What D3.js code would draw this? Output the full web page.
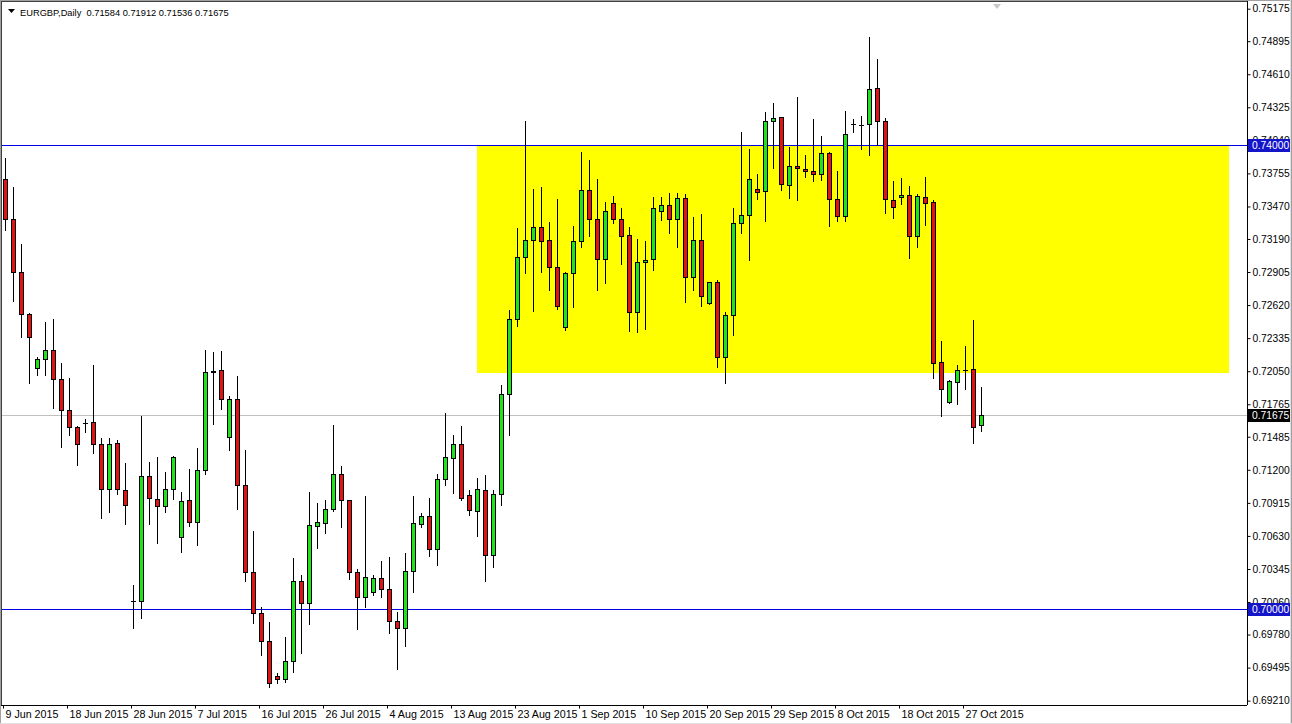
<!DOCTYPE html>
<html><head><meta charset="utf-8">
<script src="https://cdn.jsdelivr.net/npm/d3@7"></script>
<style>html,body{margin:0;padding:0;background:#fff;overflow:hidden}svg{display:block}text{font-family:"Liberation Sans",Arial,sans-serif}</style>
</head><body><svg id="c" width="1292" height="724"></svg>
<script>
// ---- data (EURGBP daily) ----
const opens=[.73707,.73362,.72905,.72543,.72078,.72155,.72233,.71983,.71716,.71569,
.71603,.71610,.71422,.71034,.71431,.71026,.70069,.70065,.71147,.70948,
.70888,.71034,.70621,.70940,.70750,.71198,.72040,.72058,.71483,.71810,
.71069,.70319,.69966,.69724,.69422,.69397,.69552,.70241,.70052,.70718,
.70741,.70862,.71164,.70940,.70319,.70103,.70147,.70267,.70172,.69897,
.69836,.70328,.70733,.70802,.70517,.71121,.71302,.71422,.70983,.70847,
.71026,.70466,.70991,.71853,.72500,.73034,.73181,.73293,.73181,.72948,
.72431,.72897,.73172,.73612,.73362,.73017,.73500,.73362,.73224,.72560,
.72994,.73013,.73431,.73483,.73362,.73543,.72862,.73181,.72638,.72819,
.72172,.72534,.73328,.73397,.73621,.73603,.74204,.74239,.73655,.73819,
.73793,.73776,.73750,.73931,.73534,.73388,.74181,.74172,.74181,.74491,
.74207,.73526,.73552,.73569,.73216,.73552,.73509,.72130,.71784,.71957,
.72060,.72069,.71584];
const highs=[.73888,.73638,.73147,.72552,.72172,.72474,.72500,.72121,.71991,.71575,
.71638,.72103,.71474,.71474,.71457,.71259,.70207,.71664,.71267,.71310,
.71181,.71319,.71009,.71207,.71388,.72233,.72216,.72224,.71836,.72009,
.71371,.70672,.70017,.69888,.69448,.69759,.70440,.70293,.71009,.70914,
.70940,.71586,.71233,.70940,.70345,.70974,.70293,.70414,.70448,.69974,
.70483,.70974,.70828,.70961,.71164,.71690,.71500,.71578,.71026,.71129,
.71155,.71026,.71931,.72578,.73284,.74207,.73621,.73638,.73336,.73534,
.72905,.73302,.73940,.73871,.73707,.73509,.73560,.73457,.73293,.73190,
.73172,.73552,.73552,.73586,.73586,.73578,.73379,.73405,.72819,.72836,
.72560,.73457,.74112,.73966,.73750,.74284,.74362,.74241,.73983,.74414,
.73914,.74224,.74078,.73940,.73776,.74293,.74224,.74250,.74931,.74741,
.74233,.73690,.73716,.73647,.73578,.73724,.73526,.72310,.71970,.72103,
.72267,.72491,.71912];
const lows=[.73267,.72655,.72345,.71948,.72017,.72017,.71733,.71397,.71500,.71241,
.71526,.71345,.70784,.70836,.70991,.70733,.69836,.69922,.70733,.70569,
.70836,.70948,.70491,.70716,.70552,.71164,.71595,.71724,.71371,.70862,
.70241,.69879,.69603,.69328,.69362,.69370,.69457,.69621,.69871,.70526,
.70655,.70845,.70707,.70259,.69828,.70017,.70121,.70103,.69793,.69483,
.69681,.70147,.70707,.70457,.70379,.71069,.71000,.70940,.70810,.70629,
.70241,.70362,.70897,.71500,.72440,.72897,.72569,.72905,.72750,.72586,
.72405,.72603,.73121,.73216,.72750,.72810,.73328,.72974,.72397,.72388,
.72414,.72922,.73353,.73241,.73121,.72647,.72750,.72612,.72629,.72086,
.71948,.72362,.73241,.73009,.73534,.73345,.73802,.73612,.73543,.73526,
.73724,.73690,.73698,.73302,.73345,.73345,.74112,.73966,.73914,.74000,
.73414,.73371,.73491,.73026,.73121,.73310,.71991,.71664,.71780,.71767,
.71897,.71431,.71536];
const closes=[.73362,.72905,.72543,.72345,.72155,.72233,.71983,.71716,.71569,.71422,
.71603,.71422,.71034,.71422,.71034,.70897,.70069,.71147,.70957,.70888,
.71034,.71310,.70931,.70750,.71198,.72043,.72054,.71810,.71810,.71069,
.70319,.69966,.69724,.69362,.69397,.69552,.70241,.70052,.70724,.70747,
.70862,.71164,.70940,.70319,.70103,.70276,.70267,.70172,.69897,.69836,
.70328,.70741,.70802,.70517,.71121,.71310,.71422,.70961,.70853,.71034,
.70466,.70991,.71853,.72500,.73034,.73181,.73293,.73175,.72948,.72612,
.72897,.73172,.73612,.73362,.73017,.73431,.73362,.73216,.72560,.72991,
.73011,.73454,.73483,.73362,.73543,.72862,.73181,.72698,.72819,.72172,
.72534,.73328,.73397,.73707,.73595,.74207,.74230,.73664,.73819,.73802,
.73776,.73750,.73931,.73534,.73388,.74095,.74181,.74172,.74483,.74207,
.73534,.73466,.73569,.73216,.73560,.73500,.72121,.71897,.71966,.72060,
.72060,.71569,.71675];
const tickIndex=[0,8,16,24,32,40,48,56,64,72,80,88,96,104,112,120];
const tickLabels=["9 Jun 2015","18 Jun 2015","28 Jun 2015","7 Jul 2015","16 Jul 2015","26 Jul 2015","4 Aug 2015","13 Aug 2015","23 Aug 2015","1 Sep 2015","10 Sep 2015","20 Sep 2015","29 Sep 2015","8 Oct 2015","18 Oct 2015","27 Oct 2015"];
const priceTicks=[0.75175,0.74895,0.74610,0.74325,0.74040,0.73755,0.73470,0.73190,0.72905,0.72620,0.72335,0.72050,0.71765,0.71485,0.71200,0.70915,0.70630,0.70345,0.70060,0.69780,0.69495,0.69210];
const levels=[0.74000,0.70000];
const lastPrice=0.71675;
const zoneBars=[59,153];
const zonePrices=[0.74000,0.72035];
const symbol="EURGBP,Daily";

// ---- layout ----
const svg=d3.select("#c");
const plotRight=1247, plotBottom=705;
const x=d3.scaleLinear().domain([0,1]).range([5,13]);
const y=d3.scaleLinear().domain([0.70,0.74]).range([609,145]);
const fmt=d3.format(".5f");
const X=i=>Math.round(x(i)), Y=v=>Math.round(y(v));
const lineBlue="#0000e6";

svg.append("rect").attr("x",0).attr("y",0).attr("width",1292).attr("height",724).attr("fill","#fff");
const plot=svg.append("g");
plot.append("defs").append("clipPath").attr("id","clip").append("rect").attr("x",2).attr("y",2).attr("width",plotRight-2).attr("height",plotBottom-2);
const g=plot.append("g").attr("clip-path","url(#clip)");

// yellow zone
g.append("rect").attr("x",X(zoneBars[0])).attr("y",Y(zonePrices[0]))
 .attr("width",X(zoneBars[1])-X(zoneBars[0])).attr("height",Y(zonePrices[1])-Y(zonePrices[0])).attr("fill","#ffff00");
// bid line
g.append("line").attr("x1",0).attr("x2",plotRight).attr("y1",Y(lastPrice)+0.5).attr("y2",Y(lastPrice)+0.5).attr("stroke","#c0c0c0");
// horizontal levels
g.selectAll("line.lvl").data(levels).join("line").attr("class","lvl")
 .attr("x1",0).attr("x2",plotRight).attr("y1",d=>Y(d)+0.5).attr("y2",d=>Y(d)+0.5)
 .attr("stroke",lineBlue).attr("stroke-width",1).attr("shape-rendering","crispEdges");

// candles
const idx=d3.range(opens.length);
const cg=g.selectAll("g.c").data(idx).join("g").attr("class","c");
cg.append("line").attr("x1",i=>X(i)+0.5).attr("x2",i=>X(i)+0.5)
 .attr("y1",i=>Y(highs[i])).attr("y2",i=>Y(lows[i])+1).attr("stroke","#000");
cg.each(function(i){
  const o=opens[i],c=closes[i];
  const top=Y(Math.max(o,c)), bot=Y(Math.min(o,c));
  const sel=d3.select(this);
  if(bot-top<1){
    sel.append("line").attr("x1",X(i)-2).attr("x2",X(i)+3).attr("y1",top+0.5).attr("y2",top+0.5).attr("stroke","#000");
  } else {
    sel.append("rect").attr("x",X(i)-1.5).attr("y",top+0.5).attr("width",4).attr("height",bot-top)
      .attr("fill",c>o?"#1ee41e":"#e01414").attr("stroke","#000").attr("stroke-width",1);
  }
});

// header
svg.append("path").attr("d","M8,9 L15,9 L11.5,13 Z").attr("fill","#000");
svg.append("text").attr("x",20).attr("y",16).attr("font-size","9.3px").attr("fill","#000")
 .attr("xml:space","preserve").style("white-space","pre")
 .text(symbol+"  "+[opens[opens.length-1],highs[highs.length-1],lows[lows.length-1],closes[closes.length-1]].map(fmt).join(" "));
// shift marker
svg.append("path").attr("d","M993,4 L1001,4 L997,9 Z").attr("fill","#c8c8c8");

// right axis
const ya=svg.append("g").attr("transform",`translate(${plotRight+0.5},0)`)
 .call(d3.axisRight(y).tickValues(priceTicks).tickFormat(fmt).tickSize(3).tickSizeOuter(0));
ya.select(".domain").attr("d",`M0,0V${plotBottom}`).attr("stroke","#000");
ya.selectAll(".tick line").attr("stroke","#000");
ya.selectAll(".tick text").attr("x",5).attr("font-size","10.3px").attr("font-family","Liberation Sans, Arial, sans-serif").attr("fill","#000");

// bottom axis
const xa=svg.append("g").attr("transform",`translate(0,${plotBottom+0.5})`)
 .call(d3.axisBottom(x).tickValues(tickIndex).tickFormat((d,i)=>tickLabels[i]).tickSize(3).tickSizeOuter(0));
xa.select(".domain").attr("d",`M0,0H${plotRight}`).attr("stroke","#000");
xa.selectAll(".tick").attr("transform",d=>`translate(${X(d)-1.5},0)`);
xa.selectAll(".tick line").attr("stroke","#000");
xa.selectAll(".tick text").attr("text-anchor","start").attr("x",2).attr("y",5).attr("font-size","10.7px").attr("font-family","Liberation Sans, Arial, sans-serif").attr("fill","#000");

// price boxes
function box(v,bg){
  const yy=Y(v);
  const b=svg.append("g");
  b.append("rect").attr("x",plotRight+1).attr("y",yy-6).attr("width",42).attr("height",13).attr("fill",bg);
  b.append("text").attr("x",plotRight+5).attr("y",yy+4).attr("font-size","10.3px").attr("fill","#fff").text(fmt(v));
}
levels.forEach(v=>box(v,"#1414c8"));
box(lastPrice,"#000");

// frame lines
svg.append("line").attr("x1",0.5).attr("x2",0.5).attr("y1",0).attr("y2",724).attr("stroke","#a0a0a0");
svg.append("line").attr("x1",1.5).attr("x2",1.5).attr("y1",1).attr("y2",plotBottom).attr("stroke","#404040");
svg.append("line").attr("x1",0).attr("x2",1292).attr("y1",0.5).attr("y2",0.5).attr("stroke","#a0a0a0");
svg.append("line").attr("x1",1).attr("x2",plotRight).attr("y1",1.5).attr("y2",1.5).attr("stroke","#404040");
svg.append("line").attr("x1",1290.5).attr("x2",1290.5).attr("y1",0).attr("y2",724).attr("stroke","#e0e0e0");
svg.append("line").attr("x1",1291.5).attr("x2",1291.5).attr("y1",0).attr("y2",724).attr("stroke","#a0a0a0");
svg.append("line").attr("x1",0).attr("x2",1292).attr("y1",723.5).attr("y2",723.5).attr("stroke","#e0e0e0");
</script></body></html>
